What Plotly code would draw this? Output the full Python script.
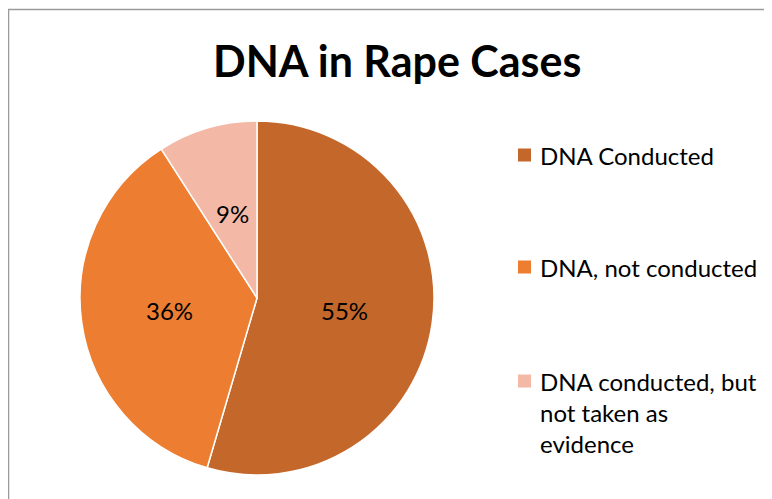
import plotly.graph_objects as go
import math

# ---- data ----
labels = ["DNA Conducted", "DNA, not conducted", "DNA conducted, but not taken as evidence"]
legend_text = ["DNA Conducted", "DNA, not conducted", "DNA conducted, but<br>not taken as<br>evidence"]
values = [6, 4, 1]
colors = ["#C4672A", "#ED7D31", "#F4B9A6"]
title = "DNA in Rape Cases"

W, H = 772, 499
OX, OY = 8, 8  # page body offset
FONT = "Lato, Calibri, sans-serif"


def px_x(X):
    return (X - OX) / W


def px_y(Y):
    return 1 - (Y - OY) / H


# pie geometry (screen pixels)
cx, cy, R = 257, 298, 177

fig = go.Figure()
fig.add_trace(go.Pie(
    labels=labels, values=values, sort=False, direction="clockwise", rotation=0,
    marker=dict(colors=colors, line=dict(color="white", width=1.5)),
    textinfo="none", hoverinfo="label+percent", showlegend=False,
    domain=dict(x=[px_x(cx - R), px_x(cx + R)], y=[px_y(cy + R), px_y(cy - R)]),
))

total = sum(values)
cum = 0
annotations = []
for v in values:
    mid = (cum + v / 2) / total * 2 * math.pi
    cum += v
    lx = cx + 0.5 * R * math.sin(mid)
    ly = cy - 0.5 * R * math.cos(mid)
    annotations.append(dict(
        x=px_x(lx), y=px_y(ly), xref="paper", yref="paper",
        text=f"{round(v / total * 100)}%", showarrow=False,
        font=dict(family=FONT, size=24, color="#000000"),
        xanchor="center", yanchor="middle",
    ))

# manual legend
leg_y = [155, 267, 381]
shapes = []
for i, (t, c) in enumerate(zip(legend_text, colors)):
    y = leg_y[i]
    shapes.append(dict(type="rect", xref="paper", yref="paper",
                       x0=px_x(518), x1=px_x(531), y0=px_y(y + 6.5), y1=px_y(y - 6.5),
                       fillcolor=c, line=dict(width=0)))
    annotations.append(dict(
        x=px_x(538), y=px_y(y - 16), xref="paper", yref="paper",
        text=t, showarrow=False, align="left",
        font=dict(family=FONT, size=24, color="#000000"),
        xanchor="left", yanchor="top",
    ))

# chart border
shapes.append(dict(type="rect", xref="paper", yref="paper",
                   x0=px_x(8.5), x1=1.05, y0=-0.05, y1=px_y(9.5),
                   line=dict(color="#9a9a9a", width=1.5), fillcolor="rgba(0,0,0,0)"))

annotations.append(dict(
    x=px_x(397), y=px_y(60), xref="paper", yref="paper", text=f"<b>{title}</b>",
    showarrow=False, font=dict(family=FONT, size=43, color="#000000"),
    xanchor="center", yanchor="middle",
))

fig.update_layout(
    width=W, height=H, margin=dict(l=0, r=0, t=0, b=0),
    paper_bgcolor="white", plot_bgcolor="white",
    annotations=annotations, shapes=shapes,
)
fig.write_html("out.html")
